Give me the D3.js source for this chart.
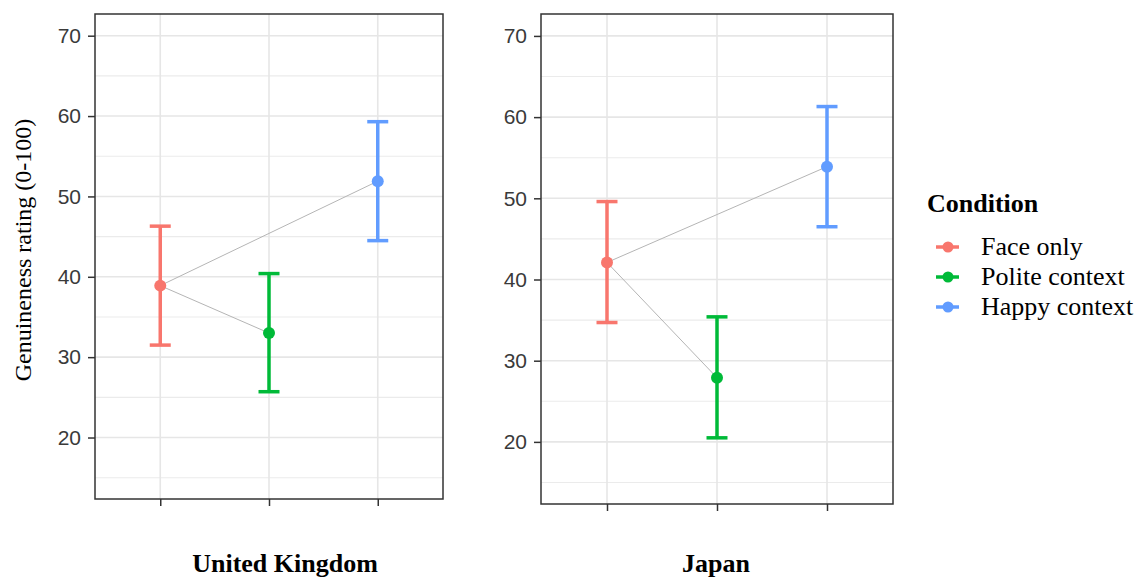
<!DOCTYPE html>
<html>
<head>
<meta charset="utf-8">
<script src="https://cdn.jsdelivr.net/npm/d3@7"></script>
<style>
  body { margin: 0; background: #fff; }
  .tick text { font-family: "Liberation Sans", Arial, sans-serif; }
</style>
</head>
<body>
<svg id="chart"></svg>
<script>
// Conditions and colours (ggplot defaults)
const conditions = ["Face only", "Polite context", "Happy context"];
const colors = ["#F8766D", "#00BA38", "#619CFF"];
const countries = ["United Kingdom", "Japan"];
const yTicks = [20, 30, 40, 50, 60, 70];
const yMinor = [15, 25, 35, 45, 55, 65];

// Means and CI bounds
const ukMean  = [38.9, 33.0, 51.9];
const ukLower = [31.5, 25.7, 44.5];
const ukUpper = [46.3, 40.4, 59.3];
const jpMean  = [42.1, 27.9, 53.9];
const jpLower = [34.7, 20.5, 46.5];
const jpUpper = [49.6, 35.4, 61.3];

const W = 1142, H = 580;
const svg = d3.select('#chart').attr('width', W).attr('height', H);

const panels = [
  {name: countries[0], mean: ukMean, lower: ukLower, upper: ukUpper, left: 95, right: 443, top: 14, bottom: 499, titleX: 285},
  {name: countries[1], mean: jpMean, lower: jpLower, upper: jpUpper, left: 541, right: 893, top: 14, bottom: 504, titleX: 716}
];

panels.forEach(p => {
  const x = d3.scalePoint().domain(conditions).range([p.left, p.right]).padding(0.6);
  const y = d3.scaleLinear().domain([12.35, 72.7]).range([p.bottom, p.top]);
  const g = svg.append('g');

  // minor grid
  g.selectAll('.minor').data(yMinor).join('line')
    .attr('x1', p.left).attr('x2', p.right)
    .attr('y1', d => y(d)).attr('y2', d => y(d))
    .attr('stroke', '#ebebeb').attr('stroke-width', 1.1);
  // major grid
  g.selectAll('.major').data(yTicks).join('line')
    .attr('x1', p.left).attr('x2', p.right)
    .attr('y1', d => y(d)).attr('y2', d => y(d))
    .attr('stroke', '#e6e6e6').attr('stroke-width', 1.6);
  g.selectAll('.vgrid').data(conditions).join('line')
    .attr('x1', d => x(d)).attr('x2', d => x(d))
    .attr('y1', p.top).attr('y2', p.bottom)
    .attr('stroke', '#e6e6e6').attr('stroke-width', 1.6);

  // connecting lines from "Face only" to the other conditions
  [1, 2].forEach(i => {
    g.append('line')
      .attr('x1', x(conditions[0])).attr('y1', y(p.mean[0]))
      .attr('x2', x(conditions[i])).attr('y2', y(p.mean[i]))
      .attr('stroke', '#b5b5b5').attr('stroke-width', 1);
  });

  // error bars
  const cap = 10.5;
  conditions.forEach((c, i) => {
    const cx = x(c);
    g.append('line').attr('x1', cx).attr('x2', cx)
      .attr('y1', y(p.lower[i])).attr('y2', y(p.upper[i]))
      .attr('stroke', colors[i]).attr('stroke-width', 3.5);
    [p.lower[i], p.upper[i]].forEach(v => {
      g.append('line').attr('x1', cx - cap).attr('x2', cx + cap)
        .attr('y1', y(v)).attr('y2', y(v))
        .attr('stroke', colors[i]).attr('stroke-width', 3.5);
    });
    g.append('circle').attr('cx', cx).attr('cy', y(p.mean[i])).attr('r', 6)
      .attr('fill', colors[i]);
  });

  // panel border
  g.append('rect').attr('x', p.left).attr('y', p.top)
    .attr('width', p.right - p.left).attr('height', p.bottom - p.top)
    .attr('fill', 'none').attr('stroke', '#333').attr('stroke-width', 1.5);

  // axes
  const yAxis = d3.axisLeft(y).tickValues(yTicks).tickSize(7).tickPadding(7);
  const ya = g.append('g').attr('transform', `translate(${p.left},0)`).call(yAxis);
  ya.select('.domain').remove();
  ya.selectAll('.tick line').attr('stroke', '#333').attr('stroke-width', 1.5);
  ya.selectAll('.tick text').attr('font-size', 21).attr('fill', '#3a3a3a');

  const xAxis = d3.axisBottom(x).tickSize(7).tickFormat('');
  const xa = g.append('g').attr('transform', `translate(0,${p.bottom})`).call(xAxis);
  xa.select('.domain').remove();
  xa.selectAll('.tick line').attr('stroke', '#333').attr('stroke-width', 1.5);

  // country title
  svg.append('text')
    .attr('x', p.titleX).attr('y', 572)
    .attr('text-anchor', 'middle')
    .attr('font-family', '"Liberation Serif", "Times New Roman", serif')
    .attr('font-weight', 'bold').attr('font-size', 26)
    .text(p.name);
});

// y-axis title
svg.append('text')
  .attr('transform', 'translate(31,250) rotate(-90)')
  .attr('text-anchor', 'middle')
  .attr('font-family', '"Liberation Serif", "Times New Roman", serif')
  .attr('font-size', 24)
  .text('Genuineness rating (0-100)');

// legend
const legend = svg.append('g').attr('transform', 'translate(927,0)');
legend.append('text').attr('x', 0).attr('y', 212)
  .attr('font-family', '"Liberation Serif", "Times New Roman", serif')
  .attr('font-weight', 'bold').attr('font-size', 26)
  .text('Condition');
const items = legend.selectAll('.item').data(conditions).join('g')
  .attr('transform', (d, i) => `translate(0,${247 + i * 30})`);
items.append('line').attr('x1', 9).attr('x2', 32).attr('y1', 0).attr('y2', 0)
  .attr('stroke', (d, i) => colors[i]).attr('stroke-width', 3.5);
items.append('circle').attr('cx', 21).attr('cy', 0).attr('r', 5.5)
  .attr('fill', (d, i) => colors[i]);
items.append('text').attr('x', 54).attr('y', 8)
  .attr('font-family', '"Liberation Serif", "Times New Roman", serif')
  .attr('font-size', 26)
  .text(d => d);
</script>
</body>
</html>
